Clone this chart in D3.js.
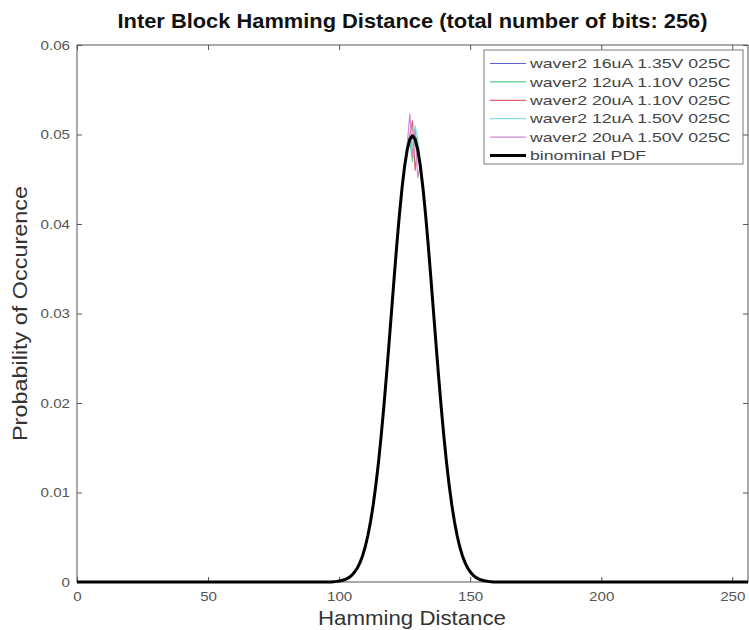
<!DOCTYPE html>
<html>
<head>
<meta charset="utf-8">
<script src="https://cdn.jsdelivr.net/npm/d3@7"></script>
<style>
  html, body { margin: 0; padding: 0; background: #fff; }
  svg { display: block; font-family: "Liberation Sans", Arial, Helvetica, sans-serif; }
</style>
</head>
<body>
<svg id="chart" width="749" height="630"></svg>
<script>
// ---- data ---------------------------------------------------------------
const titleText = "Inter Block Hamming Distance (total number of bits: 256)";
const xLabel = "Hamming Distance";
const yLabel = "Probability of Occurence";
const xTicks = [0, 50, 100, 150, 200, 250];
const yTicks = [0, 0.01, 0.02, 0.03, 0.04, 0.05, 0.06];

// measured histograms: values start at hamming distance measStart,
// every curve is zero elsewhere inside measRange
const measStart = 98;
const measRange = [62, 197];
const seriesNames = [
  "waver2 16uA 1.35V 025C",
  "waver2 12uA 1.10V 025C",
  "waver2 20uA 1.10V 025C",
  "waver2 12uA 1.50V 025C",
  "waver2 20uA 1.50V 025C"
];
const seriesColors = ["#5f5fcf", "#5ccb92", "#d8636c", "#86dede", "#d288d2"];

const s16uA135 = [0.00003, 0.00008, 0.00010, 0.00018, 0.00024, 0.00039, 0.00054, 0.00082,
  0.00110, 0.00162, 0.00215, 0.00300, 0.00392, 0.00528, 0.00670, 0.00868, 0.01070, 0.01340,
  0.01610, 0.01945, 0.02275, 0.02655, 0.03015, 0.03410, 0.03750, 0.04115, 0.04390, 0.04660,
  0.04820, 0.04970, 0.04990, 0.04930, 0.04840, 0.04635, 0.04410, 0.04090, 0.03775, 0.03390,
  0.03030, 0.02640, 0.02290, 0.01930, 0.01625, 0.01325, 0.01085, 0.00855, 0.00680, 0.00518,
  0.00400, 0.00295, 0.00222, 0.00157, 0.00115,
  0.00079, 0.00056, 0.00037, 0.00026, 0.00016, 0.00012, 0.00006, 0.00004];
const s12uA110 = [0.00005, 0.00006, 0.00012, 0.00016, 0.00026, 0.00037, 0.00056, 0.00079,
  0.00118, 0.00155, 0.00224, 0.00292, 0.00401, 0.00515, 0.00682, 0.00852, 0.01085, 0.01322,
  0.01628, 0.01930, 0.02290, 0.02640, 0.03035, 0.03390, 0.03775, 0.04090, 0.04410, 0.04630,
  0.04850, 0.04920, 0.04700, 0.05050, 0.04810, 0.04660, 0.04390, 0.04110, 0.03750, 0.03410,
  0.03015, 0.02655, 0.02275, 0.01945, 0.01610, 0.01340, 0.01070, 0.00868, 0.00670, 0.00528,
  0.00392, 0.00300, 0.00215, 0.00162, 0.00110,
  0.00082, 0.00054, 0.00039, 0.00024, 0.00018, 0.00010, 0.00008, 0.00003];
const s20uA110 = [0.00004, 0.00007, 0.00011, 0.00017, 0.00025, 0.00038, 0.00055, 0.00081,
  0.00112, 0.00160, 0.00218, 0.00299, 0.00395, 0.00524, 0.00672, 0.00862, 0.01075, 0.01335,
  0.01615, 0.01940, 0.02280, 0.02650, 0.03020, 0.03405, 0.03760, 0.04105, 0.04395, 0.04655,
  0.04850, 0.05000, 0.05150, 0.04600, 0.04860, 0.04640, 0.04405, 0.04095, 0.03770, 0.03395,
  0.03025, 0.02645, 0.02285, 0.01935, 0.01620, 0.01330, 0.01080, 0.00858, 0.00676, 0.00520,
  0.00398, 0.00296, 0.00220, 0.00158, 0.00113,
  0.00080, 0.00055, 0.00038, 0.00025, 0.00017, 0.00011, 0.00007, 0.00004];
const s12uA150 = [0.00004, 0.00007, 0.00011, 0.00016, 0.00026, 0.00038, 0.00055, 0.00080,
  0.00116, 0.00158, 0.00220, 0.00296, 0.00398, 0.00520, 0.00676, 0.00858, 0.01080, 0.01330,
  0.01620, 0.01935, 0.02285, 0.02645, 0.03025, 0.03395, 0.03770, 0.04095, 0.04405, 0.04640,
  0.04840, 0.04900, 0.04880, 0.05100, 0.04960, 0.04650, 0.04395, 0.04105, 0.03760, 0.03405,
  0.03020, 0.02650, 0.02280, 0.01940, 0.01615, 0.01335, 0.01075, 0.00862, 0.00672, 0.00524,
  0.00395, 0.00299, 0.00218, 0.00160, 0.00112,
  0.00081, 0.00055, 0.00038, 0.00026, 0.00016, 0.00011, 0.00007, 0.00004];
const s20uA150 = [0.00004, 0.00007, 0.00011, 0.00017, 0.00025, 0.00038, 0.00055, 0.00080,
  0.00114, 0.00159, 0.00219, 0.00298, 0.00396, 0.00522, 0.00674, 0.00860, 0.01078, 0.01332,
  0.01618, 0.01938, 0.02283, 0.02648, 0.03024, 0.03400, 0.03764, 0.04101, 0.04400, 0.04647,
  0.04900, 0.05230, 0.04750, 0.05050, 0.04520, 0.04660, 0.04380, 0.04100, 0.03770, 0.03400,
  0.03020, 0.02650, 0.02285, 0.01935, 0.01620, 0.01330, 0.01078, 0.00860, 0.00674, 0.00522,
  0.00396, 0.00298, 0.00219, 0.00159, 0.00114,
  0.00080, 0.00055, 0.00038, 0.00025, 0.00017, 0.00011, 0.00007, 0.00004];
const seriesValues = [s16uA135, s12uA110, s20uA110, s12uA150, s20uA150];

// binomial reference, n = 256, p = 0.5 (non-zero part, distances 98..158)
const binomName = "binominal PDF";
const binomStart = 98;
const binomValues = [0.00004, 0.00007, 0.00011, 0.00017, 0.00025, 0.00038, 0.00055, 0.00080, 0.00114, 0.00159,
  0.00219, 0.00297, 0.00397, 0.00522, 0.00675, 0.00860, 0.01078, 0.01331, 0.01619, 0.01938,
  0.02283, 0.02648, 0.03024, 0.03400, 0.03764, 0.04101, 0.04400, 0.04647, 0.04833, 0.04947,
  0.04986,
  0.04947, 0.04833, 0.04647, 0.04400, 0.04101, 0.03764, 0.03400, 0.03024, 0.02648, 0.02283,
  0.01938, 0.01619, 0.01331, 0.01078, 0.00860, 0.00675, 0.00522, 0.00397, 0.00297, 0.00219,
  0.00159, 0.00114, 0.00080, 0.00055, 0.00038, 0.00025, 0.00017, 0.00011, 0.00007, 0.00004];
const totalBits = 256;

// ---- layout -------------------------------------------------------------
const svg = d3.select("#chart");
const margin = { left: 77, right: 1, top: 45, bottom: 48 };
const W = 749, H = 630;
const x = d3.scaleLinear().domain([0, totalBits]).range([margin.left, W - margin.right]);
const y = d3.scaleLinear().domain([0, 0.06]).range([H - margin.bottom, margin.top]);

const axisColor = "#555";
const tickTextColor = "#555";

// stretch a text element horizontally by a factor (figure text is wide)
function widen(sel, factor) {
  sel.each(function () {
    const w = this.getComputedTextLength();
    d3.select(this).attr("textLength", w * factor).attr("lengthAdjust", "spacingAndGlyphs");
  });
}

// build the full curves from the typed values
function expand(start, values, lo, hi) {
  return d3.range(lo, hi + 1).map(k => {
    const i = k - start;
    return [k, (i >= 0 && i < values.length) ? values[i] : 0];
  });
}
const binomCurve = expand(binomStart, binomValues, 0, totalBits);
const measCurves = seriesValues.map(v => expand(measStart, v, measRange[0], measRange[1]));

const line = d3.line().x(d => x(d[0])).y(d => y(d[1]));

// ---- axes box -----------------------------------------------------------
svg.append("rect")
  .attr("x", x(0)).attr("y", y(0.06))
  .attr("width", x(totalBits) - x(0)).attr("height", y(0) - y(0.06))
  .attr("fill", "#fff").attr("stroke", axisColor).attr("stroke-width", 1);

// ticks pointing inward on all four sides
const tickLen = 5;
const xb = d3.axisBottom(x).tickValues(xTicks).tickSize(-tickLen).tickPadding(9).tickFormat(d3.format("d"));
const xt = d3.axisTop(x).tickValues(xTicks).tickSize(-tickLen).tickFormat("");
const yl = d3.axisLeft(y).tickValues(yTicks).tickSize(-tickLen).tickPadding(7).tickFormat(d => d === 0 ? "0" : d3.format(".2f")(d));
const yr = d3.axisRight(y).tickValues(yTicks).tickSize(-tickLen).tickFormat("");

function styleAxis(g) {
  g.select(".domain").remove();
  g.selectAll(".tick line").attr("stroke", axisColor);
  g.selectAll(".tick text").attr("fill", tickTextColor).style("font-size", "13.5px")
    .style("font-family", "'Liberation Sans', Arial, sans-serif")
    .call(widen, 1.12);
}
svg.append("g").attr("transform", `translate(0,${y(0)})`).call(xb).call(styleAxis);
svg.append("g").attr("transform", `translate(0,${y(0.06)})`).call(xt).call(styleAxis);
svg.append("g").attr("transform", `translate(${x(0)},0)`).call(yl).call(styleAxis);
svg.append("g").attr("transform", `translate(${x(totalBits)},0)`).call(yr).call(styleAxis);

// ---- curves -------------------------------------------------------------
const gPlot = svg.append("g");
measCurves.forEach((c, i) => {
  gPlot.append("path").datum(c).attr("d", line)
    .attr("fill", "none").attr("stroke", seriesColors[i]).attr("stroke-width", 1.2)
    .attr("stroke-linejoin", "round");
});
gPlot.append("path").datum(binomCurve).attr("d", line)
  .attr("fill", "none").attr("stroke", "#000").attr("stroke-width", 3)
  .attr("stroke-linejoin", "round");

// ---- titles -------------------------------------------------------------
const cx = (x(0) + x(totalBits)) / 2;
svg.append("text").attr("x", cx).attr("y", 28)
  .attr("text-anchor", "middle").style("font-size", "20.5px").style("font-weight", "bold")
  .attr("fill", "#111").text(titleText)
  .attr("textLength", 590).attr("lengthAdjust", "spacingAndGlyphs");
svg.append("text").attr("x", 412).attr("y", 625)
  .attr("text-anchor", "middle").style("font-size", "21px").attr("fill", "#333").text(xLabel)
  .attr("textLength", 188).attr("lengthAdjust", "spacingAndGlyphs");
svg.append("text").attr("transform", `translate(27,${(y(0) + y(0.06)) / 2}) rotate(-90)`)
  .attr("text-anchor", "middle").style("font-size", "21px").attr("fill", "#333").text(yLabel)
  .attr("textLength", 255).attr("lengthAdjust", "spacingAndGlyphs");

// ---- legend -------------------------------------------------------------
const legendNames = seriesNames.concat([binomName]);
const legendColors = seriesColors.concat(["#000"]);
const legendWidths = seriesNames.map(() => 1.2).concat([3]);
const lg = svg.append("g").attr("transform", "translate(484,50)");
lg.append("rect").attr("width", 259).attr("height", 114)
  .attr("fill", "#fff").attr("stroke", "#7a7a7a").attr("stroke-width", 1);
legendNames.forEach((name, i) => {
  const cy = 13.5 + i * 18.4;
  lg.append("line").attr("x1", 6).attr("x2", 42).attr("y1", cy).attr("y2", cy)
    .attr("stroke", legendColors[i]).attr("stroke-width", legendWidths[i]);
  lg.append("text").attr("x", 46).attr("y", cy).attr("dy", "0.36em")
    .style("font-size", "13px").attr("fill", "#444").text(name)
    .call(widen, 1.36);
});
</script>
</body>
</html>
